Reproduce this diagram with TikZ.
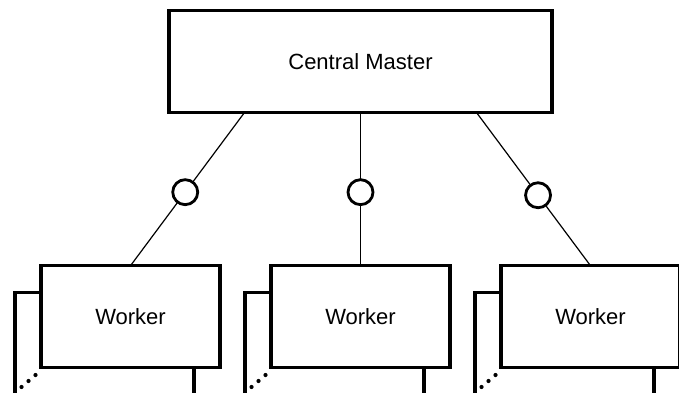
\documentclass[tikz,border=0pt]{standalone}
\usepackage{fontspec}
\setmainfont{Liberation Sans}
\usepackage{tikz}
\usetikzlibrary{positioning, calc}

\tikzset{
	box/.style={draw, line width=3.3pt, fill=white, minimum width=179pt, minimum height=102pt, inner sep=0pt, outer sep=0pt, font=\fontsize{22}{26}\selectfont},
	iface/.style={draw, circle, line width=2.8pt, fill=white, minimum size=25pt, inner sep=0pt},
	link/.style={line width=1.2pt},
	more/.style={line width=4.2pt, line cap=round, dash pattern=on 0pt off 9.2pt}
}

\begin{document}
\begin{tikzpicture}[x=1pt, y=-1pt]
				\useasboundingbox (0, 0) rectangle (679, 392);
				\clip (0, 0) rectangle (679, 392);
				% Stacked copies behind the workers:
				\node[box] (back1) at (104.5, 343.5){};
				\node[box] (back2) at (334.5, 343.5){};
				\node[box] (back3) at (564.5, 343.5){};
				% Boxes:
				\node[box, minimum width=383pt] (master) at (360.5, 61.5){Central Master};
				\node[box] (worker2) at (360.5, 316.7){Worker};
				\node[box, left=51pt of worker2] (worker1){Worker};
				\node[box, right=51pt of worker2] (worker3){Worker};
				% Connection points on the master:
				\coordinate (mL) at ([xshift=-116pt]master.south);
				\coordinate (mR) at ([xshift=116pt]master.south);
				% Links with interfaces:
				\draw[link] (mL) -- node[iface, pos=0.52](i1){} (worker1.north);
				\draw[link] (master.south) -- node[iface, pos=0.52](i2){} (worker2.north);
				\draw[link] (mR) -- node[iface, pos=0.54](i3){} (worker3.north);
				% More workers:
				\draw[more] ($(worker1.south west)+(-5.5, 7.3)$) -- ++(-14, 12);
				\draw[more] ($(worker2.south west)+(-5.5, 7.3)$) -- ++(-14, 12);
				\draw[more] ($(worker3.south west)+(-5.5, 7.3)$) -- ++(-14, 12);
			\end{tikzpicture}
\end{document}
